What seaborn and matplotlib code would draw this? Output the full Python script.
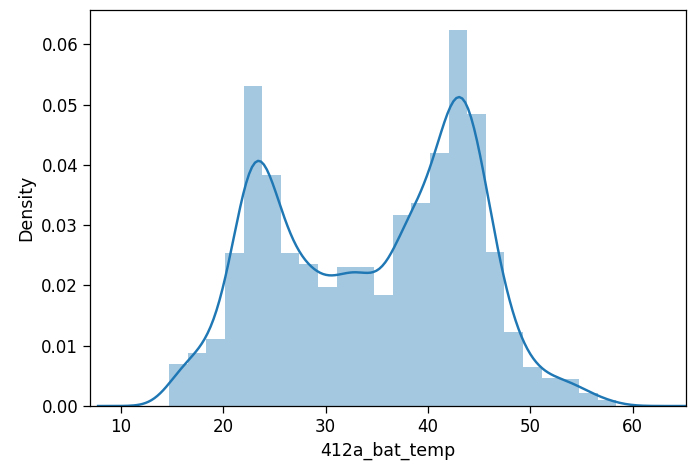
import numpy as np
import pandas as pd
import matplotlib
matplotlib.use("Agg")
import matplotlib.pyplot as plt
import seaborn as sns

# Histogram of battery temperature readings (density per bin)
bin_start = 14.69
bin_width = 1.821
bin_density = [0.0070, 0.0088, 0.0111, 0.0254, 0.0531, 0.0383, 0.0254, 0.0235,
               0.0197, 0.0231, 0.0231, 0.0184, 0.0317, 0.0337, 0.0419, 0.0624,
               0.0485, 0.0255, 0.0122, 0.0064, 0.0047, 0.0045, 0.0022, 0.0010]
x_ticks = [10, 20, 30, 40, 50, 60]
y_ticks = [0.00, 0.01, 0.02, 0.03, 0.04, 0.05, 0.06]
x_label = "412a_bat_temp"
y_label = "Density"

edges = bin_start + bin_width * np.arange(len(bin_density) + 1)
centers = (edges[:-1] + edges[1:]) / 2
df = pd.DataFrame({"temp": centers, "density": bin_density})

plt.rcParams["font.family"] = ["DejaVu Sans"]
fig = plt.figure(figsize=(6.89, 4.67), dpi=100)
ax = fig.add_axes([0.1306, 0.1306, 0.865, 0.848])

sns.histplot(data=df, x="temp", weights="density", bins=list(edges), stat="count",
             color="C0", alpha=0.4, linewidth=0, ax=ax)

# Kernel density estimate with a bandwidth of about 1.6 degrees
w = df["density"].to_numpy()
mean = np.average(centers, weights=w)
std = np.sqrt(np.average((centers - mean) ** 2, weights=w))
sns.kdeplot(data=df, x="temp", weights="density", bw_method=1.6 / std, cut=3.65,
            color="C0", linewidth=1.75, ax=ax)

ax.set_xlim(6.97, 65.2)
ax.set_ylim(0, 0.0657)
ax.set_xticks(x_ticks)
ax.set_yticks(y_ticks)
ax.set_yticklabels([f"{v:.2f}" for v in y_ticks])
ax.set_xlabel(x_label, fontsize=12.5)
ax.set_ylabel(y_label, fontsize=12.5)
ax.tick_params(labelsize=12, length=5, width=0.9)
for s in ax.spines.values():
    s.set_linewidth(0.9)

fig.savefig("out.png", dpi=100)
